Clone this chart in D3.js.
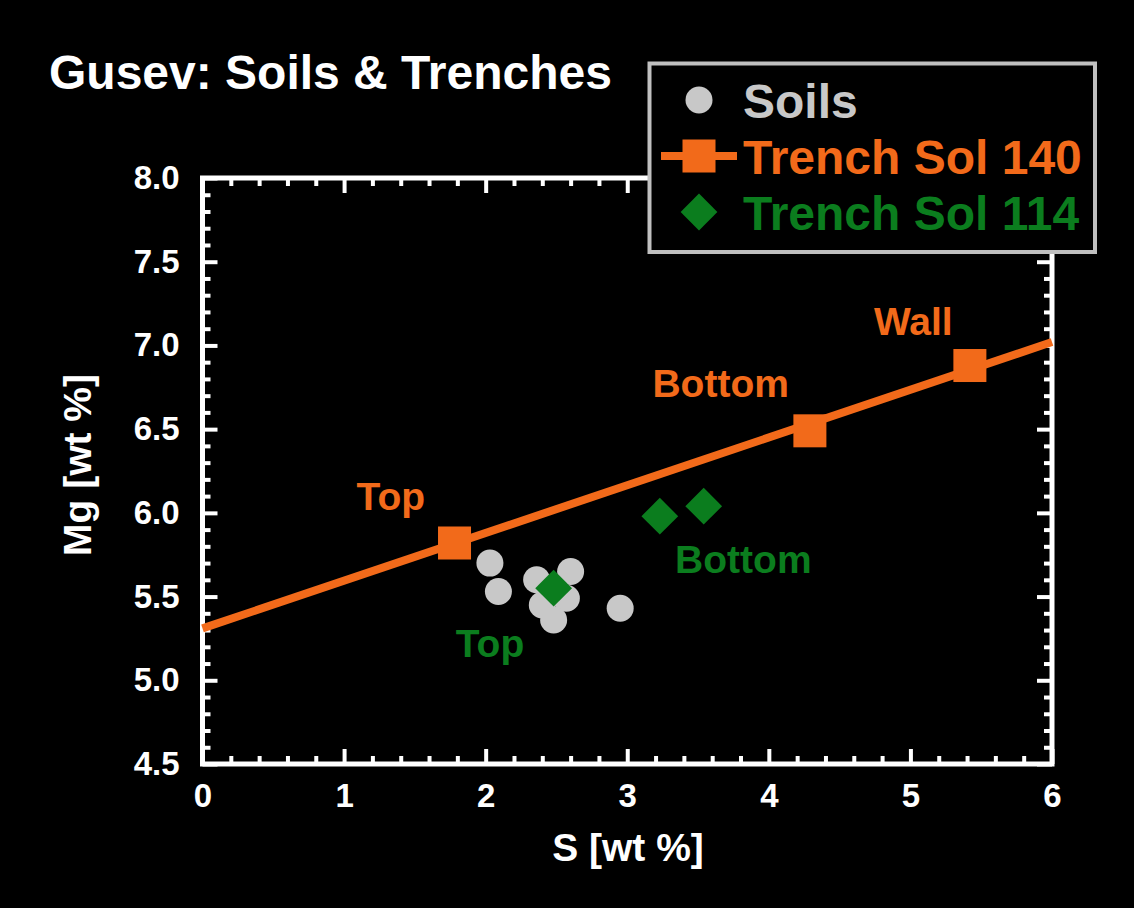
<!DOCTYPE html>
<html><head><meta charset="utf-8">
<script src="https://cdn.jsdelivr.net/npm/d3@7"></script>
<style>
html,body{margin:0;padding:0;background:#000;}
svg{display:block;}
text{font-family:"Liberation Sans",Arial,sans-serif;font-weight:bold;}
</style></head>
<body>
<script>
// ---- data ----
const soilsS  = [2.03, 2.09, 2.36, 2.60, 2.57, 2.40, 2.48, 2.95];
const soilsMg = [5.70, 5.53, 5.60, 5.65, 5.49, 5.45, 5.36, 5.43];
const trench140S  = [1.78, 4.29, 5.42];
const trench140Mg = [5.82, 6.49, 6.88];
const trench140Labels = ["Top", "Bottom", "Wall"];
const fit140S  = [0, 6];
const fit140Mg = [5.31, 7.02];
const trench114S  = [2.48, 3.23, 3.54];
const trench114Mg = [5.55, 5.98, 6.04];
const trench114Labels = ["Top", "Bottom"];
const trench114LabelS  = [2.03, 3.82];
const trench114LabelMg = [5.14, 5.64];
const trench140LabelS  = [1.33, 3.66, 5.02];
const trench140LabelMg = [6.02, 6.69, 7.06];
const xTicks = [0, 1, 2, 3, 4, 5, 6];
const xTickLabels = ["0", "1", "2", "3", "4", "5", "6"];
const yTicks = [4.5, 5.0, 5.5, 6.0, 6.5, 7.0, 7.5, 8.0];
const yTickLabels = ["4.5", "5.0", "5.5", "6.0", "6.5", "7.0", "7.5", "8.0"];
const xMinorTicks = d3.range(0, 31).map(i => i / 5).filter(v => Math.abs(v - Math.round(v)) > 1e-6);
const yMinorTicks = d3.range(45, 81).map(i => i / 10).filter(v => Math.abs(v * 2 - Math.round(v * 2)) > 1e-6);
const legendNames = ["Soils", "Trench Sol 140", "Trench Sol 114"];
const title = "Gusev: Soils & Trenches";
const xTitle = "S [wt %]";
const yTitle = "Mg [wt %]";

// ---- styles ----
const ORANGE = "#f26a1a", GREEN = "#0b7d1e", GRAY = "#c8c8c8", WHITE = "#ffffff";
const W = 1134, H = 908;
const x = d3.scaleLinear().domain([0, 6]).range([202.5, 1052]);
const y = d3.scaleLinear().domain([4.5, 8]).range([764, 178]);

const svg = d3.select("body").append("svg").attr("width", W).attr("height", H);
svg.append("rect").attr("width", W).attr("height", H).attr("fill", "#000");

// title
svg.append("text").attr("x", 49).attr("y", 89).attr("fill", WHITE)
  .attr("font-size", 48).text(title);

// axes
function styleAxis(g) {
  g.select(".domain").remove();
  g.selectAll(".tick line").attr("stroke", WHITE).attr("stroke-width", 4);
  g.selectAll(".tick text").attr("fill", WHITE).attr("font-size", 33)
    .attr("font-family", '"Liberation Sans",Arial,sans-serif').attr("font-weight", "bold");
}
const x0 = x(0), x1 = x(6), y0 = y(4.5), y1 = y(8);
// bottom
svg.append("g").attr("transform", `translate(0,${y0})`)
  .call(d3.axisBottom(x).tickValues(xTicks).tickSize(-15).tickPadding(20)
    .tickFormat((d, i) => xTickLabels[i])).call(styleAxis);
svg.append("g").attr("transform", `translate(0,${y0})`)
  .call(d3.axisBottom(x).tickValues(xMinorTicks).tickSize(-8).tickFormat("")).call(styleAxis);
// top
svg.append("g").attr("transform", `translate(0,${y1})`)
  .call(d3.axisTop(x).tickValues(xTicks).tickSize(-15).tickFormat("")).call(styleAxis);
svg.append("g").attr("transform", `translate(0,${y1})`)
  .call(d3.axisTop(x).tickValues(xMinorTicks).tickSize(-8).tickFormat("")).call(styleAxis);
// left
svg.append("g").attr("transform", `translate(${x0},0)`)
  .call(d3.axisLeft(y).tickValues(yTicks).tickSize(-15).tickPadding(23)
    .tickFormat((d, i) => yTickLabels[i])).call(styleAxis);
svg.append("g").attr("transform", `translate(${x0},0)`)
  .call(d3.axisLeft(y).tickValues(yMinorTicks).tickSize(-8).tickFormat("")).call(styleAxis);
// right
svg.append("g").attr("transform", `translate(${x1},0)`)
  .call(d3.axisRight(y).tickValues(yTicks).tickSize(-15).tickFormat("")).call(styleAxis);
svg.append("g").attr("transform", `translate(${x1},0)`)
  .call(d3.axisRight(y).tickValues(yMinorTicks).tickSize(-8).tickFormat("")).call(styleAxis);

// frame
svg.append("rect").attr("x", x0).attr("y", y1).attr("width", x1 - x0).attr("height", y0 - y1)
  .attr("fill", "none").attr("stroke", WHITE).attr("stroke-width", 5);

// axis titles
svg.append("text").attr("x", 628).attr("y", 861).attr("text-anchor", "middle")
  .attr("fill", WHITE).attr("font-size", 39).text(xTitle);
svg.append("text").attr("transform", `translate(91,${(y0 + y1) / 2 - 6}) rotate(-90)`)
  .attr("text-anchor", "middle").attr("fill", WHITE).attr("font-size", 39).text(yTitle);

// fit line for Sol 140
const line = d3.line().x(d => x(d[0])).y(d => y(d[1]));
svg.append("path").datum(fit140S.map((s, i) => [s, fit140Mg[i]]))
  .attr("d", line).attr("fill", "none").attr("stroke", ORANGE).attr("stroke-width", 8);

// Sol 140 squares
const sq = 33;
svg.append("g").selectAll("rect").data(trench140S.map((s, i) => [s, trench140Mg[i]])).join("rect")
  .attr("x", d => x(d[0]) - sq / 2).attr("y", d => y(d[1]) - sq / 2)
  .attr("width", sq).attr("height", sq).attr("fill", ORANGE);

// soils
svg.append("g").selectAll("circle").data(soilsS.map((s, i) => [s, soilsMg[i]])).join("circle")
  .attr("cx", d => x(d[0])).attr("cy", d => y(d[1])).attr("r", 13.5).attr("fill", GRAY);

// Sol 114 diamonds
const diamond = d3.symbol().type(d3.symbolSquare).size(26 * 26)();
svg.append("g").selectAll("path").data(trench114S.map((s, i) => [s, trench114Mg[i]])).join("path")
  .attr("d", diamond)
  .attr("transform", d => `translate(${x(d[0])},${y(d[1])}) rotate(45)`)
  .attr("fill", GREEN);

// annotations
svg.append("g").selectAll("text").data(trench140Labels).join("text")
  .attr("x", (d, i) => x(trench140LabelS[i])).attr("y", (d, i) => y(trench140LabelMg[i]))
  .attr("text-anchor", "middle").attr("fill", ORANGE).attr("font-size", 39).text(d => d);
svg.append("g").selectAll("text").data(trench114Labels).join("text")
  .attr("x", (d, i) => x(trench114LabelS[i])).attr("y", (d, i) => y(trench114LabelMg[i]))
  .attr("text-anchor", "middle").attr("fill", GREEN).attr("font-size", 39).text(d => d);

// legend
const lg = svg.append("g");
lg.append("rect").attr("x", 649.5).attr("y", 63.5).attr("width", 445.5).attr("height", 188.5)
  .attr("fill", "#000").attr("stroke", "#c0c0c0").attr("stroke-width", 4);
const legendColors = [GRAY, ORANGE, GREEN];
const legendY = [100, 156, 212];
const lx = 699;
lg.append("circle").attr("cx", lx).attr("cy", legendY[0]).attr("r", 13.5).attr("fill", GRAY);
lg.append("line").attr("x1", 661).attr("x2", 737).attr("y1", legendY[1]).attr("y2", legendY[1])
  .attr("stroke", ORANGE).attr("stroke-width", 8);
lg.append("rect").attr("x", lx - sq / 2).attr("y", legendY[1] - sq / 2).attr("width", sq).attr("height", sq)
  .attr("fill", ORANGE);
lg.append("path").attr("d", diamond).attr("transform", `translate(${lx},${legendY[2]}) rotate(45)`)
  .attr("fill", GREEN);
lg.selectAll("text.lt").data(legendNames).join("text").attr("class", "lt")
  .attr("x", 743).attr("y", (d, i) => legendY[i] + 18)
  .attr("fill", (d, i) => legendColors[i]).attr("font-size", 48).text(d => d);
</script>
</body></html>
